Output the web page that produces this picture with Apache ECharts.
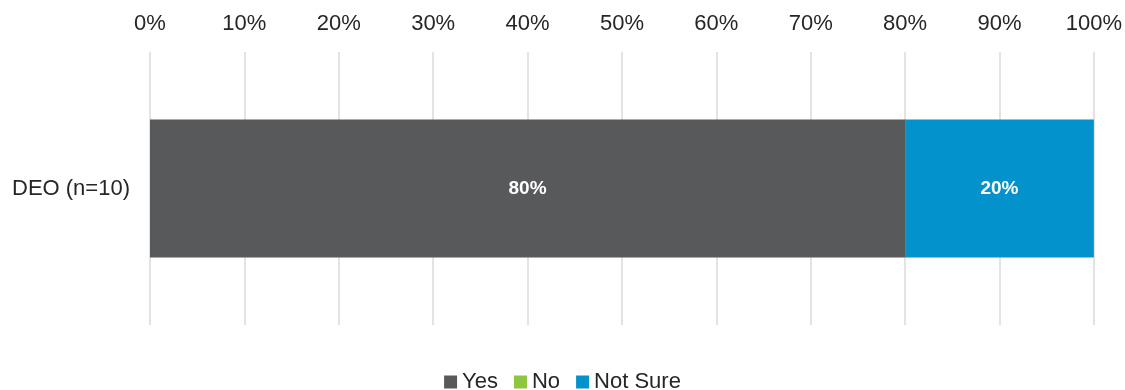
<!DOCTYPE html>
<html>
<head>
<meta charset="utf-8" />
<title>DEO</title>
<script src="https://cdn.jsdelivr.net/npm/echarts@6/dist/echarts.min.js"></script>
<style>
  html, body { margin: 0; padding: 0; background: #fff; }
  #chart { width: 1125px; height: 390px; }
</style>
</head>
<body>
<div id="chart"></div>
<script>
  var categories = ['DEO (n=10)'];
  var seriesNames = ['Yes', 'No', 'Not Sure'];
  var yesValues = [80];
  var noValues = [0];
  var notSureValues = [20];
  var colors = ['#58595b', '#8dc63f', '#0392cb'];

  var chart = echarts.init(document.getElementById('chart'));

  function pctLabel(p) {
    return p.value > 0 ? p.value + '%' : '';
  }

  var valueSets = [yesValues, noValues, notSureValues];
  var series = seriesNames.map(function (name, i) {
    return {
      name: name,
      type: 'bar',
      stack: 'total',
      barWidth: 138,
      data: valueSets[i],
      itemStyle: { color: colors[i] },
      label: {
        show: true,
        position: 'inside',
        color: '#fff',
        fontWeight: 'bold',
        fontSize: 19,
        fontFamily: 'Liberation Sans, Arial, sans-serif',
        formatter: pctLabel
      }
    };
  });

  chart.setOption({
    animation: false,
    textStyle: { fontFamily: 'Liberation Sans, Arial, sans-serif' },
    grid: { left: 150, right: 29, top: 52, bottom: 65 },
    legend: {
      data: seriesNames,
      top: 366,
      itemWidth: 13,
      itemHeight: 13,
      itemGap: 16,
      icon: 'rect',
      textStyle: { fontSize: 22, color: '#262626' }
    },
    xAxis: {
      type: 'value',
      position: 'top',
      min: 0,
      max: 100,
      interval: 10,
      axisLine: { show: false },
      axisTick: { show: false },
      axisLabel: { formatter: '{value}%', fontSize: 22, color: '#262626', margin: 17 },
      splitLine: { lineStyle: { color: '#e3e3e3', width: 2 } }
    },
    yAxis: {
      type: 'category',
      data: categories,
      axisLine: { show: false },
      axisTick: { show: false },
      axisLabel: { fontSize: 22, color: '#262626', margin: 20 }
    },
    series: series
  });
</script>
</body>
</html>
